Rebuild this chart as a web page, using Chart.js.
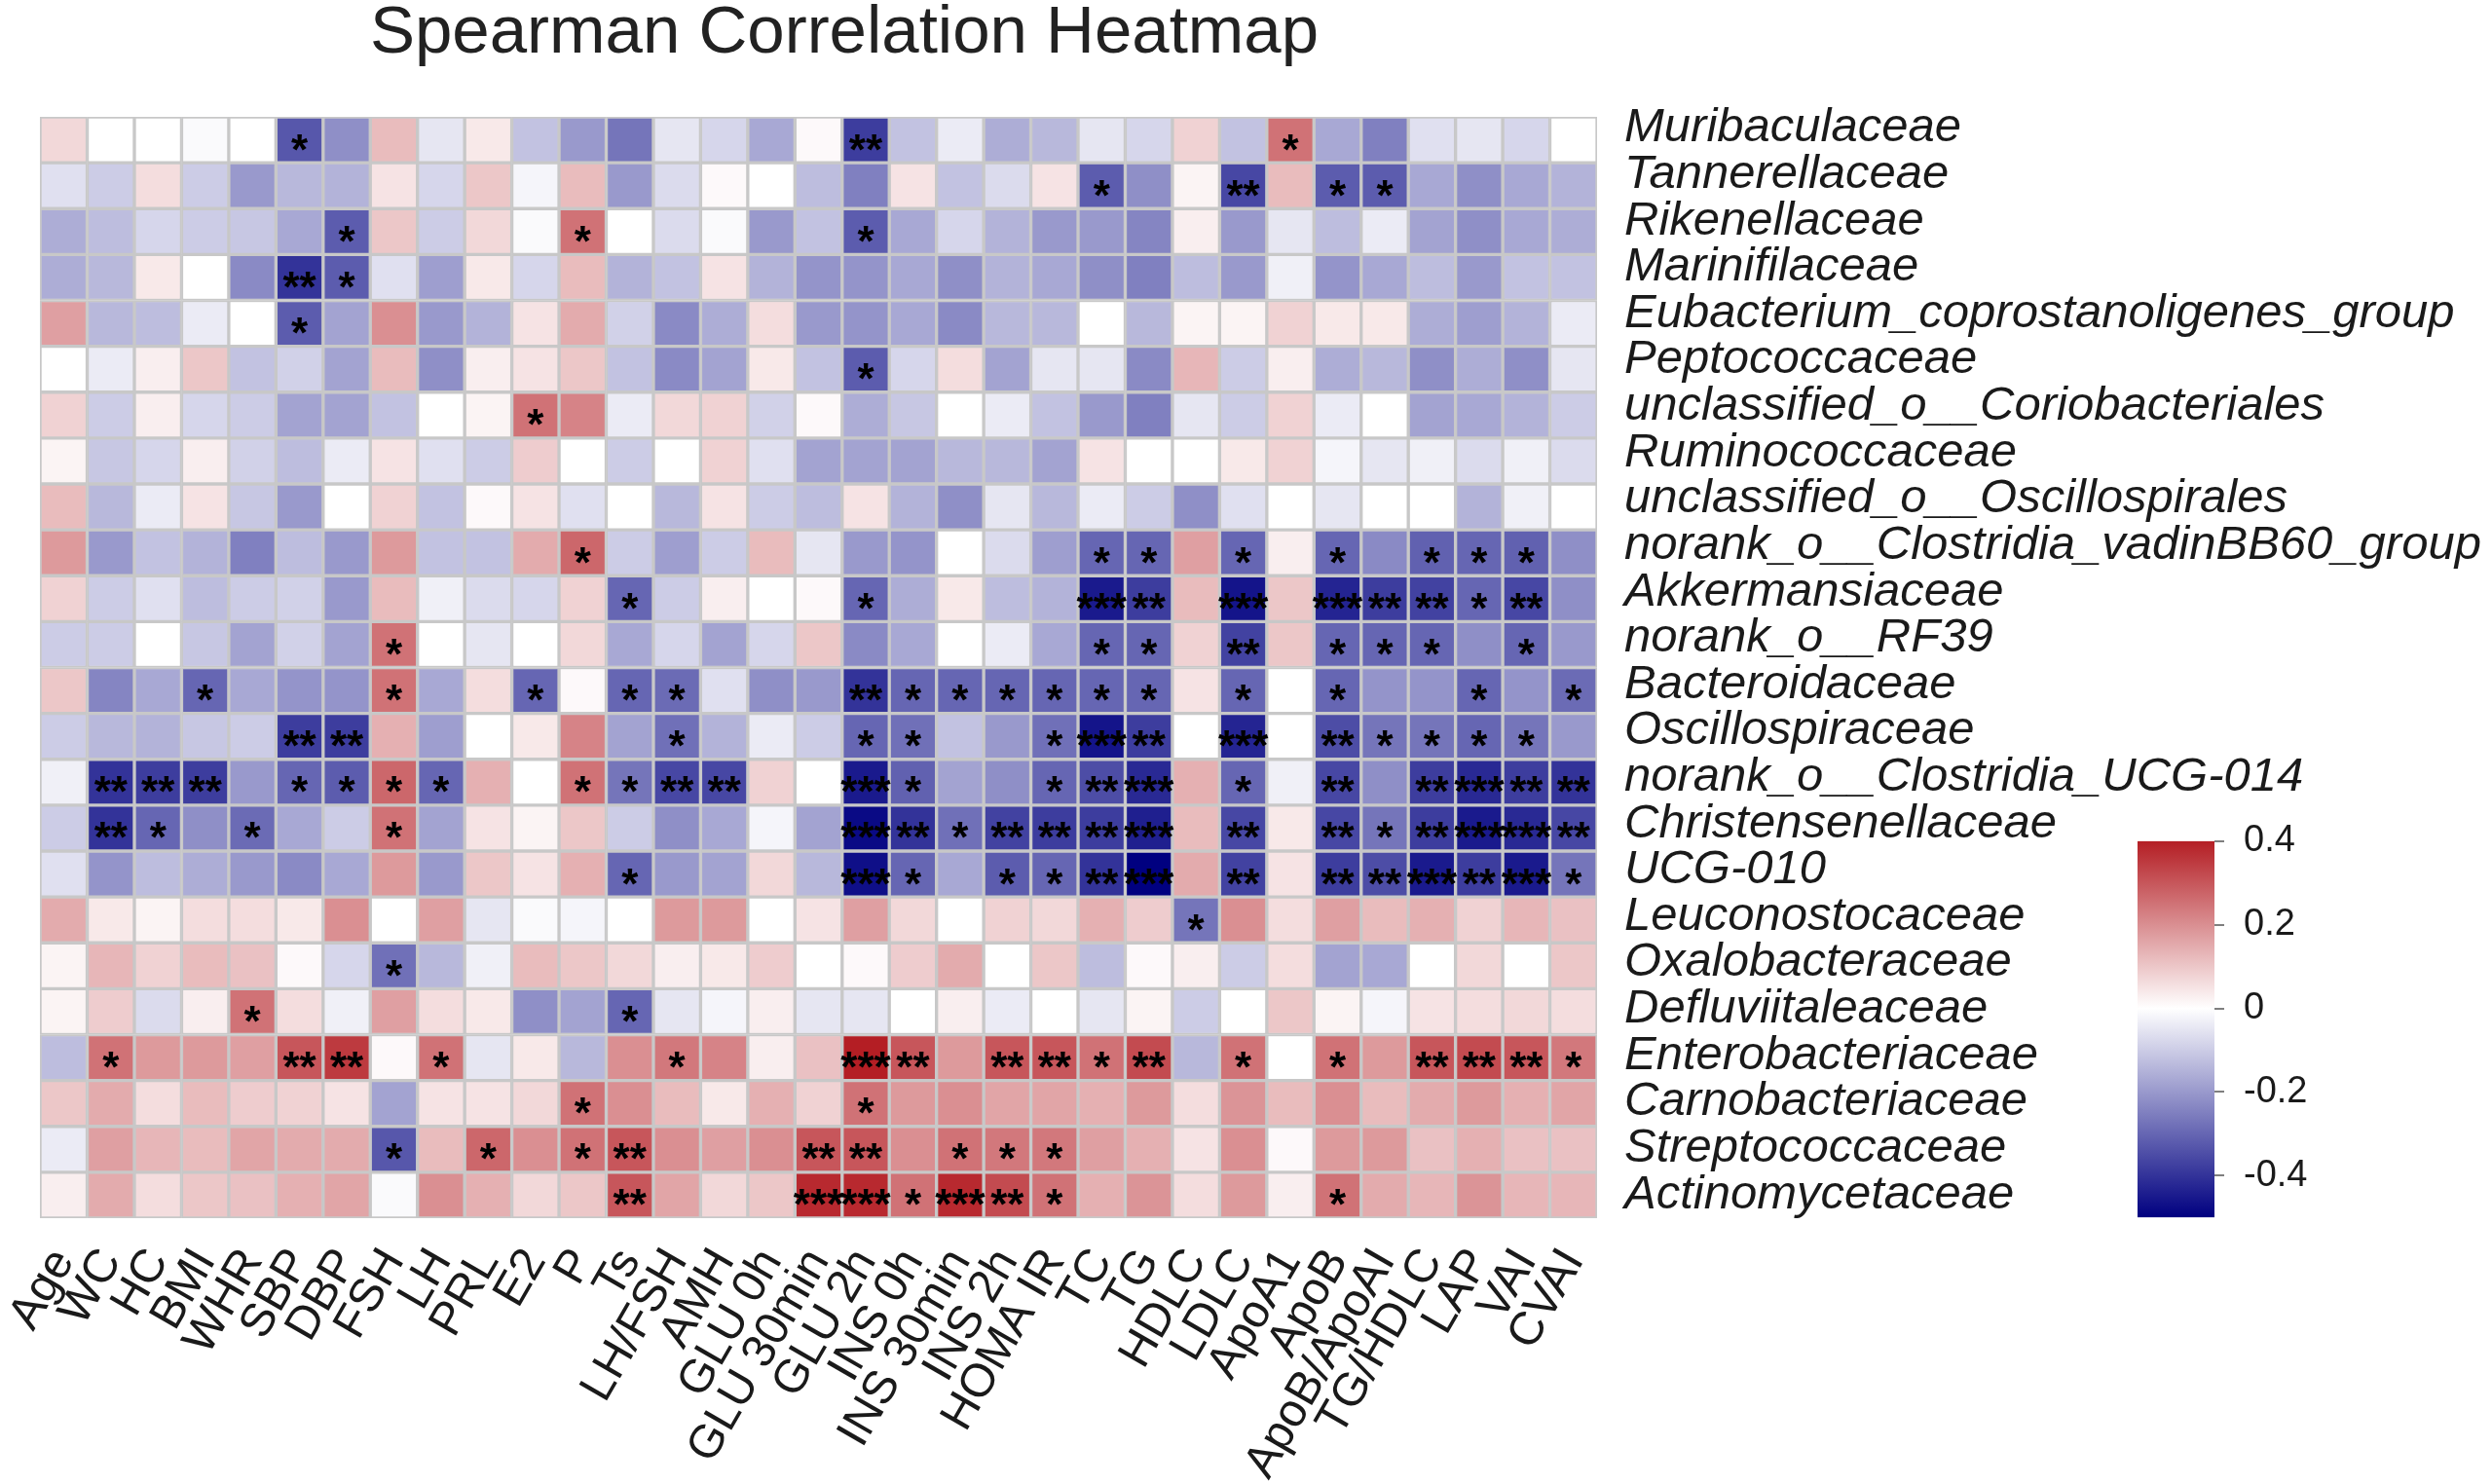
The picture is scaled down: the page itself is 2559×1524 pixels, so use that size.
<!DOCTYPE html>
<html lang="en">
<head>
<meta charset="UTF-8">
<title>Spearman Correlation Heatmap</title>
<script src="https://cdn.jsdelivr.net/npm/chart.js"></script>
<style>
  html, body { margin: 0; padding: 0; background: #fff; }
  .wrap { position: relative; width: 2559px; height: 1524px; }
  #heat { position: absolute; left: 0; top: 0; }
  #legendBar { position: absolute; left: 2150px; top: 821px; }
</style>
</head>
<body>
<div class="wrap">
  <canvas id="heat" width="2559" height="1524"></canvas>
  <canvas id="legendBar" width="300" height="472"></canvas>
</div>
<script>
// clinical indices (columns)
const columns = ['Age', 'WC', 'HC', 'BMI', 'WHR', 'SBP', 'DBP', 'FSH', 'LH', 'PRL', 'E2', 'P', 'Ts',
  'LH/FSH', 'AMH', 'GLU 0h', 'GLU 30min', 'GLU 2h', 'INS 0h', 'INS 30min', 'INS 2h', 'HOMA IR',
  'TC', 'TG', 'HDLC', 'LDLC', 'ApoA1', 'ApoB', 'ApoB/ApoAI', 'TG/HDLC', 'LAP', 'VAI', 'CVAI'];

// taxa (rows, top to bottom)
const taxa = ['Muribaculaceae', 'Tannerellaceae', 'Rikenellaceae', 'Marinifilaceae',
  'Eubacterium_coprostanoligenes_group', 'Peptococcaceae', 'unclassified_o__Coriobacteriales',
  'Ruminococcaceae', 'unclassified_o__Oscillospirales', 'norank_o__Clostridia_vadinBB60_group',
  'Akkermansiaceae', 'norank_o__RF39', 'Bacteroidaceae', 'Oscillospiraceae',
  'norank_o__Clostridia_UCG-014', 'Christensenellaceae', 'UCG-010', 'Leuconostocaceae',
  'Oxalobacteraceae', 'Defluviitaleaceae', 'Enterobacteriaceae', 'Carnobacteriaceae',
  'Streptococcaceae', 'Actinomycetaceae'];

// spearman rho, one line per taxon
const rho = [
  [0.07, 0, 0, -0.01, 0, -0.33, -0.22, 0.12, -0.05, 0.04, -0.12, -0.2, -0.27, -0.05, -0.08, -0.17, 0.01, -0.38, -0.12, -0.04, -0.16, -0.14, -0.05, -0.08, 0.08, -0.12, 0.25, -0.17, -0.25, -0.06, -0.05, -0.08, 0],
  [-0.06, -0.1, 0.06, -0.1, -0.2, -0.14, -0.15, 0.05, -0.08, 0.1, -0.02, 0.12, -0.2, -0.07, 0.01, 0, -0.13, -0.25, 0.05, -0.12, -0.07, 0.05, -0.32, -0.22, 0.02, -0.36, 0.12, -0.32, -0.32, -0.17, -0.22, -0.17, -0.15],
  [-0.16, -0.13, -0.08, -0.1, -0.11, -0.17, -0.32, 0.1, -0.1, 0.07, -0.01, 0.25, 0, -0.07, -0.01, -0.2, -0.12, -0.32, -0.17, -0.08, -0.15, -0.2, -0.2, -0.24, 0.03, -0.2, -0.05, -0.13, -0.04, -0.18, -0.22, -0.17, -0.16],
  [-0.16, -0.14, 0.04, 0, -0.23, -0.4, -0.32, -0.06, -0.19, 0.04, -0.08, 0.12, -0.15, -0.12, 0.05, -0.15, -0.21, -0.21, -0.17, -0.22, -0.15, -0.17, -0.22, -0.25, -0.13, -0.2, -0.03, -0.21, -0.17, -0.13, -0.2, -0.12, -0.12],
  [0.17, -0.14, -0.13, -0.04, 0, -0.32, -0.18, 0.2, -0.2, -0.15, 0.05, 0.15, -0.09, -0.23, -0.16, 0.06, -0.2, -0.21, -0.17, -0.23, -0.14, -0.14, 0, -0.14, 0.02, 0.02, 0.08, 0.04, 0.04, -0.16, -0.19, -0.15, -0.04],
  [0, -0.04, 0.03, 0.1, -0.12, -0.09, -0.18, 0.12, -0.22, 0.03, 0.05, 0.1, -0.12, -0.23, -0.18, 0.04, -0.12, -0.32, -0.08, 0.06, -0.18, -0.05, -0.05, -0.23, 0.13, -0.1, 0.03, -0.16, -0.14, -0.22, -0.16, -0.22, -0.05],
  [0.08, -0.1, 0.03, -0.08, -0.1, -0.18, -0.18, -0.12, 0, 0.02, 0.25, 0.22, -0.04, 0.07, 0.08, -0.09, 0.01, -0.16, -0.11, 0, -0.04, -0.12, -0.2, -0.25, -0.05, -0.1, 0.08, -0.04, 0, -0.18, -0.17, -0.15, -0.1],
  [0.02, -0.11, -0.08, 0.03, -0.09, -0.13, -0.04, 0.05, -0.06, -0.1, 0.09, 0, -0.1, 0, 0.08, -0.06, -0.18, -0.18, -0.18, -0.14, -0.14, -0.18, 0.05, 0, 0, 0.04, 0.08, -0.02, -0.05, -0.03, -0.07, -0.03, -0.07],
  [0.12, -0.14, -0.04, 0.05, -0.11, -0.2, 0, 0.08, -0.12, 0.01, 0.05, -0.06, 0, -0.14, 0.05, -0.1, -0.13, 0.05, -0.15, -0.22, -0.05, -0.14, -0.04, -0.1, -0.22, -0.06, 0, -0.05, 0, 0, -0.15, -0.03, 0],
  [0.18, -0.2, -0.12, -0.15, -0.25, -0.13, -0.2, 0.18, -0.12, -0.12, 0.15, 0.27, -0.1, -0.19, -0.1, 0.12, -0.05, -0.2, -0.21, 0, -0.07, -0.19, -0.3, -0.3, 0.17, -0.3, 0.03, -0.3, -0.23, -0.31, -0.3, -0.31, -0.22],
  [0.08, -0.1, -0.06, -0.13, -0.1, -0.09, -0.2, 0.12, -0.03, -0.07, -0.08, 0.08, -0.3, -0.1, 0.03, 0, 0.01, -0.3, -0.16, 0.04, -0.13, -0.15, -0.45, -0.38, 0.12, -0.46, 0.1, -0.43, -0.38, -0.37, -0.3, -0.36, -0.22],
  [-0.1, -0.1, 0, -0.11, -0.18, -0.09, -0.18, 0.25, 0, -0.05, 0, 0.07, -0.17, -0.08, -0.18, -0.08, 0.1, -0.23, -0.17, 0, -0.04, -0.17, -0.3, -0.3, 0.08, -0.37, 0.1, -0.3, -0.3, -0.3, -0.22, -0.3, -0.2],
  [0.1, -0.24, -0.17, -0.3, -0.17, -0.21, -0.21, 0.25, -0.17, 0.06, -0.3, 0.01, -0.3, -0.29, -0.06, -0.22, -0.2, -0.4, -0.3, -0.3, -0.3, -0.3, -0.3, -0.3, 0.05, -0.3, 0, -0.3, -0.21, -0.21, -0.3, -0.21, -0.29],
  [-0.1, -0.14, -0.15, -0.11, -0.1, -0.38, -0.38, 0.14, -0.19, 0, 0.04, 0.22, -0.18, -0.28, -0.15, -0.04, -0.1, -0.3, -0.28, -0.12, -0.2, -0.28, -0.46, -0.38, 0, -0.43, 0, -0.35, -0.27, -0.27, -0.3, -0.27, -0.2],
  [-0.03, -0.4, -0.38, -0.38, -0.2, -0.3, -0.32, 0.27, -0.3, 0.14, 0, 0.25, -0.27, -0.36, -0.36, 0.08, 0, -0.45, -0.31, -0.18, -0.22, -0.3, -0.35, -0.42, 0.14, -0.3, -0.03, -0.36, -0.22, -0.38, -0.42, -0.38, -0.4],
  [-0.1, -0.4, -0.3, -0.22, -0.29, -0.17, -0.1, 0.25, -0.18, 0.05, 0.02, 0.1, -0.1, -0.22, -0.17, -0.02, -0.18, -0.48, -0.4, -0.28, -0.37, -0.38, -0.38, -0.44, 0.12, -0.36, 0.04, -0.36, -0.27, -0.38, -0.45, -0.42, -0.36],
  [-0.06, -0.21, -0.13, -0.16, -0.2, -0.23, -0.17, 0.18, -0.2, 0.1, 0.05, 0.14, -0.3, -0.2, -0.18, 0.07, -0.14, -0.47, -0.3, -0.17, -0.32, -0.3, -0.4, -0.5, 0.15, -0.37, 0.05, -0.38, -0.35, -0.45, -0.38, -0.45, -0.27],
  [0.15, 0.04, 0.02, 0.06, 0.06, 0.04, 0.2, 0, 0.17, -0.05, -0.01, -0.02, 0, 0.18, 0.18, 0, 0.05, 0.17, 0.07, 0, 0.08, 0.07, 0.14, 0.09, -0.27, 0.2, 0.06, 0.17, 0.12, 0.14, 0.08, 0.13, 0.11],
  [0.02, 0.13, 0.08, 0.12, 0.11, 0.01, -0.08, -0.28, -0.14, -0.03, 0.12, 0.1, 0.07, 0.03, 0.04, 0.09, 0, 0.01, 0.09, 0.15, 0, 0.1, -0.13, 0.01, 0.03, -0.1, 0.06, -0.18, -0.17, 0, 0.07, 0, 0.1],
  [0.02, 0.09, -0.07, 0.03, 0.25, 0.06, -0.03, 0.17, 0.06, 0.04, -0.22, -0.18, -0.3, -0.05, -0.02, 0.03, -0.05, -0.05, 0, 0.03, -0.04, 0, -0.05, 0.02, -0.1, 0, 0.1, 0.02, -0.02, 0.05, 0.06, 0.07, 0.06],
  [-0.13, 0.25, 0.18, 0.18, 0.17, 0.3, 0.35, 0.01, 0.25, -0.05, 0.04, -0.14, 0.2, 0.24, 0.22, 0.03, 0.11, 0.4, 0.3, 0.18, 0.3, 0.3, 0.25, 0.32, -0.14, 0.25, 0, 0.25, 0.18, 0.3, 0.32, 0.3, 0.24],
  [0.1, 0.15, 0.06, 0.12, 0.09, 0.08, 0.05, -0.18, 0.05, 0.05, 0.07, 0.25, 0.2, 0.12, 0.04, 0.14, 0.08, 0.25, 0.18, 0.2, 0.16, 0.16, 0.14, 0.18, 0.06, 0.19, 0.12, 0.2, 0.12, 0.15, 0.18, 0.14, 0.16],
  [-0.04, 0.17, 0.13, 0.12, 0.16, 0.15, 0.15, -0.33, 0.12, 0.27, 0.2, 0.25, 0.3, 0.2, 0.17, 0.2, 0.3, 0.3, 0.2, 0.25, 0.24, 0.24, 0.17, 0.14, 0.05, 0.2, 0.01, 0.18, 0.18, 0.11, 0.14, 0.11, 0.11],
  [0.03, 0.15, 0.06, 0.1, 0.11, 0.14, 0.16, -0.01, 0.2, 0.14, 0.07, 0.1, 0.3, 0.16, 0.07, 0.1, 0.38, 0.38, 0.25, 0.38, 0.32, 0.25, 0.14, 0.19, 0.06, 0.18, 0.03, 0.25, 0.15, 0.13, 0.19, 0.13, 0.13]
];

// significance level (number of asterisks), same layout as rho
const stars = [
  [0,0,0,0,0,1,0,0,0,0,0,0,0,0,0,0,0,2,0,0,0,0,0,0,0,0,1,0,0,0,0,0,0],
  [0,0,0,0,0,0,0,0,0,0,0,0,0,0,0,0,0,0,0,0,0,0,1,0,0,2,0,1,1,0,0,0,0],
  [0,0,0,0,0,0,1,0,0,0,0,1,0,0,0,0,0,1,0,0,0,0,0,0,0,0,0,0,0,0,0,0,0],
  [0,0,0,0,0,2,1,0,0,0,0,0,0,0,0,0,0,0,0,0,0,0,0,0,0,0,0,0,0,0,0,0,0],
  [0,0,0,0,0,1,0,0,0,0,0,0,0,0,0,0,0,0,0,0,0,0,0,0,0,0,0,0,0,0,0,0,0],
  [0,0,0,0,0,0,0,0,0,0,0,0,0,0,0,0,0,1,0,0,0,0,0,0,0,0,0,0,0,0,0,0,0],
  [0,0,0,0,0,0,0,0,0,0,1,0,0,0,0,0,0,0,0,0,0,0,0,0,0,0,0,0,0,0,0,0,0],
  [0,0,0,0,0,0,0,0,0,0,0,0,0,0,0,0,0,0,0,0,0,0,0,0,0,0,0,0,0,0,0,0,0],
  [0,0,0,0,0,0,0,0,0,0,0,0,0,0,0,0,0,0,0,0,0,0,0,0,0,0,0,0,0,0,0,0,0],
  [0,0,0,0,0,0,0,0,0,0,0,1,0,0,0,0,0,0,0,0,0,0,1,1,0,1,0,1,0,1,1,1,0],
  [0,0,0,0,0,0,0,0,0,0,0,0,1,0,0,0,0,1,0,0,0,0,3,2,0,3,0,3,2,2,1,2,0],
  [0,0,0,0,0,0,0,1,0,0,0,0,0,0,0,0,0,0,0,0,0,0,1,1,0,2,0,1,1,1,0,1,0],
  [0,0,0,1,0,0,0,1,0,0,1,0,1,1,0,0,0,2,1,1,1,1,1,1,0,1,0,1,0,0,1,0,1],
  [0,0,0,0,0,2,2,0,0,0,0,0,0,1,0,0,0,1,1,0,0,1,3,2,0,3,0,2,1,1,1,1,0],
  [0,2,2,2,0,1,1,1,1,0,0,1,1,2,2,0,0,3,1,0,0,1,2,3,0,1,0,2,0,2,3,2,2],
  [0,2,1,0,1,0,0,1,0,0,0,0,0,0,0,0,0,3,2,1,2,2,2,3,0,2,0,2,1,2,3,3,2],
  [0,0,0,0,0,0,0,0,0,0,0,0,1,0,0,0,0,3,1,0,1,1,2,3,0,2,0,2,2,3,2,3,1],
  [0,0,0,0,0,0,0,0,0,0,0,0,0,0,0,0,0,0,0,0,0,0,0,0,1,0,0,0,0,0,0,0,0],
  [0,0,0,0,0,0,0,1,0,0,0,0,0,0,0,0,0,0,0,0,0,0,0,0,0,0,0,0,0,0,0,0,0],
  [0,0,0,0,1,0,0,0,0,0,0,0,1,0,0,0,0,0,0,0,0,0,0,0,0,0,0,0,0,0,0,0,0],
  [0,1,0,0,0,2,2,0,1,0,0,0,0,1,0,0,0,3,2,0,2,2,1,2,0,1,0,1,0,2,2,2,1],
  [0,0,0,0,0,0,0,0,0,0,0,1,0,0,0,0,0,1,0,0,0,0,0,0,0,0,0,0,0,0,0,0,0],
  [0,0,0,0,0,0,0,1,0,1,0,1,2,0,0,0,2,2,0,1,1,1,0,0,0,0,0,0,0,0,0,0,0],
  [0,0,0,0,0,0,0,0,0,0,0,0,2,0,0,0,3,3,1,3,2,1,0,0,0,0,0,1,0,0,0,0,0]
];

const legendTicks = [-0.4, -0.2, 0, 0.2, 0.4];

// colour scale: navy -> white -> red
const LOW = -0.5, HIGH = 0.4;
const NAVY = [0, 0, 128], WHITE = [255, 255, 255], RED = [180, 30, 36];
const FONT = '"Liberation Sans", Arial, Helvetica, sans-serif';
const INK = '#1a1a1a';

function fillFor(v) {
  const t = v < 0 ? Math.min(v / LOW, 1) : Math.min(v / HIGH, 1);
  const end = v < 0 ? NAVY : RED;
  const c = WHITE.map((w, i) => Math.round(w + (end[i] - w) * t));
  return 'rgb(' + c.join(',') + ')';
}

// title text
const titlePlugin = {
  id: 'heatTitle',
  afterDraw(chart) {
    const c = chart.ctx;
    c.save();
    c.font = '69px ' + FONT;
    c.fillStyle = '#222';
    c.textAlign = 'center';
    c.textBaseline = 'alphabetic';
    c.fillText('Spearman Correlation Heatmap', 867, 54);
    c.restore();
  }
};

// asterisks on top of the cells
const starPlugin = {
  id: 'stars',
  afterDatasetsDraw(chart) {
    const c = chart.ctx;
    c.save();
    c.font = 'bold 44px ' + FONT;
    c.fillStyle = '#000';
    c.textAlign = 'center';
    c.textBaseline = 'alphabetic';
    stars.forEach((row, r) => {
      const meta = chart.getDatasetMeta(r);
      row.forEach((n, col) => {
        if (!n) return;
        const p = meta.data[col].getProps(['x', 'y', 'base'], true);
        c.fillText('*'.repeat(n), p.x, (p.y + p.base) / 2 + 25);
      });
    });
    c.restore();
  }
};

const cellSets = taxa.map((name, r) => ({
  label: name,
  data: columns.map(() => 1),
  backgroundColor: rho[r].map(fillFor),
  borderColor: '#c8c8c8',
  borderWidth: 2,
  borderSkipped: false,
  barPercentage: 1,
  categoryPercentage: 1
}));

new Chart(document.getElementById('heat'), {
  type: 'bar',
  data: { labels: columns, datasets: cellSets },
  options: {
    responsive: false,
    devicePixelRatio: 1,
    animation: false,
    layout: { autoPadding: false, padding: { left: 40, top: 120, right: 0, bottom: 0 } },
    plugins: { legend: { display: false }, tooltip: { enabled: false } },
    scales: {
      x: {
        stacked: true,
        grid: { display: false, drawTicks: false },
        border: { display: false },
        ticks: {
          autoSkip: false, minRotation: 60, maxRotation: 60, padding: 22,
          font: { family: FONT, size: 48 }, color: INK
        },
        afterFit: s => { s.height = 273; }
      },
      y: {
        stacked: true,
        position: 'right',
        min: 0, max: 24,
        reverse: true,
        grid: { display: false, drawTicks: false },
        border: { display: false },
        // labels sit a little above the row centres near the top, as in the source figure
        afterBuildTicks: s => { s.ticks = taxa.map((_, i) => ({ value: i + 0.25 + 0.0104 * i })); },
        ticks: {
          autoSkip: false, padding: 28,
          callback: (v, i) => taxa[i],
          font: { family: FONT, size: 49, style: 'italic' }, color: INK
        },
        afterFit: s => { s.width = 919; }
      }
    }
  },
  plugins: [starPlugin, titlePlugin]
});

// colour bar
function barGradient(chart) {
  const y = chart.scales.y;
  if (!chart.chartArea || !y) return fillFor(0);
  const g = chart.ctx.createLinearGradient(0, y.getPixelForValue(LOW), 0, y.getPixelForValue(HIGH));
  g.addColorStop(0, fillFor(LOW));
  g.addColorStop(-LOW / (HIGH - LOW), fillFor(0));
  g.addColorStop(1, fillFor(HIGH));
  return g;
}

new Chart(document.getElementById('legendBar'), {
  type: 'bar',
  data: {
    labels: [''],
    datasets: [{
      data: [[LOW, HIGH]],
      backgroundColor: ctx => barGradient(ctx.chart),
      borderWidth: 0,
      barPercentage: 1,
      categoryPercentage: 1
    }]
  },
  options: {
    responsive: false,
    devicePixelRatio: 1,
    animation: false,
    layout: { autoPadding: false, padding: { left: 45, top: 0, right: 0, bottom: 0 } },
    plugins: { legend: { display: false }, tooltip: { enabled: false } },
    scales: {
      x: { display: false },
      y: {
        position: 'right',
        min: LOW, max: HIGH,
        afterBuildTicks: s => { s.ticks = legendTicks.map(v => ({ value: v })); },
        ticks: {
          padding: 20,
          callback: v => (v === 0 ? '0' : v.toFixed(1)),
          font: { family: FONT, size: 38 }, color: INK
        },
        grid: { drawOnChartArea: false, drawTicks: true, tickLength: 10, tickColor: '#7f7f7f', lineWidth: 2 },
        border: { display: false },
        afterFit: s => { s.width = 176; }
      }
    }
  }
});
</script>
</body>
</html>
